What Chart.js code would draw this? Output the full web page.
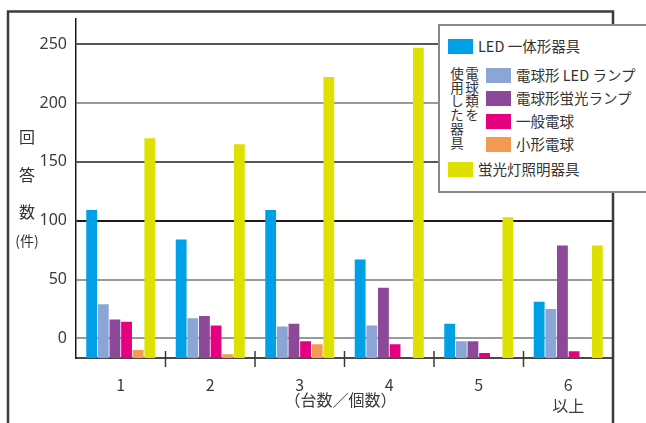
<!DOCTYPE html>
<html lang="ja">
<head>
<meta charset="utf-8">
<script src="https://cdn.jsdelivr.net/npm/chart.js@4.4.1/dist/chart.umd.min.js"></script>
<style>
  body { margin: 0; background: #fff; }
  #wrap { position: relative; width: 646px; height: 423px; overflow: hidden;
          font-family: 'Noto Sans CJK JP', sans-serif; color: #333; }
  #chart { position: absolute; left: 0; top: 0; }
  .ytitle { position: absolute; left: 18px; top: 118px; width: 18px; font-size: 16px;
            line-height: 37.5px; text-align: center; }
  .yunit { position: absolute; left: 14px; top: 231px; width: 26px; font-size: 14px;
           line-height: 18px; text-align: center; }
  #legend { position: absolute; left: 438px; top: 24px; width: 220px; height: 165px;
            border: 2px solid #888; background: #fff; }
  .sw { position: absolute; width: 25px; height: 15px; }
  .lt { position: absolute; font-size: 14.5px; line-height: 16px; white-space: nowrap; }
  .vt { position: absolute; writing-mode: vertical-rl; font-size: 13.5px; line-height: 15px;
        letter-spacing: 0.3px; }
</style>
</head>
<body>
<div id="wrap">
  <canvas id="chart" width="646" height="423"></canvas>
  <div class="ytitle">回<br>答<br>数</div>
  <div class="yunit">(件)</div>
  <div id="legend"></div>
</div>
<script>
// ---- data ----
const categories = ['1', '2', '3', '4', '5', ['6', '以上']];
const seriesNames = ['LED 一体形器具', '電球形 LED ランプ', '電球形蛍光ランプ', '一般電球', '小形電球', '蛍光灯照明器具'];
const seriesColors = ['#00a0e6', '#8ba5d6', '#8e4899', '#e4007f', '#f39b52', '#dde000'];

const ledFixture   = [109, 84, 109, 67, 12.5, 31];
const ledBulb      = [29, 17, 10, 11, -2.5, 25];
const cflBulb      = [16, 19, 12.5, 43, -2.5, 79];
const incandescent = [14, 11, -2.5, -5, -12.5, -11];
const miniBulb     = [-10, -13.5, -5, null, null, null];
const fluorescent  = [170, 165, 222, 247, 103, 79];

const yTicks = [0, 50, 100, 150, 200, 250];
const yMin = -16.7;
const yMax = 271.7;

const seriesValues = [ledFixture, ledBulb, cflBulb, incandescent, miniBulb, fluorescent];

// gridline shade per tick (dark / light alternating as in the print)
const gridShade = { 0: '#9a9a9a', 50: '#9a9a9a', 100: '#231815', 150: '#595757', 200: '#9a9a9a', 250: '#595757' };

// ---- frame + category ticks ----
const framePlugin = {
  id: 'frame',
  afterDraw(chart) {
    const { ctx, chartArea: a, scales: { x } } = chart;
    ctx.save();
    ctx.strokeStyle = '#3e3a39';
    ctx.lineWidth = 2.5;
    ctx.beginPath();
    ctx.moveTo(8, 430); ctx.lineTo(8, 11.5); ctx.lineTo(a.right, 11.5); ctx.lineTo(a.right, 430);
    ctx.stroke();

    ctx.lineWidth = 1.5;
    for (let i = 1; i < categories.length; i++) {
      const px = (x.getPixelForValue(i - 1) + x.getPixelForValue(i)) / 2;
      ctx.beginPath();
      ctx.moveTo(px, a.bottom - 7);
      ctx.lineTo(px, a.bottom + 9);
      ctx.stroke();
    }
    ctx.restore();
  }
};

new Chart(document.getElementById('chart'), {
  type: 'bar',
  data: {
    labels: categories,
    datasets: seriesNames.map((name, i) => ({
      label: name,
      data: seriesValues[i],
      backgroundColor: seriesColors[i],
      base: yMin,
      borderWidth: 0,
      categoryPercentage: 0.78,
      barPercentage: 0.93
    }))
  },
  options: {
    responsive: false,
    animation: false,
    devicePixelRatio: 1,
    layout: { padding: { left: 0, right: 33, top: 13, bottom: 0 } },
    plugins: { legend: { display: false }, tooltip: { enabled: false } },
    scales: {
      x: {
        grid: { display: false },
        border: { display: true, color: '#4a4646', width: 2 },
        ticks: {
          color: '#3e3a39',
          padding: 8,
          font: { family: "'Noto Sans CJK JP', sans-serif", size: 16, lineHeight: 1.35 }
        },
        title: {
          display: true,
          text: '（台数／個数）　',
          color: '#3e3a39',
          padding: { top: 0, bottom: 13 },
          font: { family: "'Noto Sans CJK JP', sans-serif", size: 16 }
        },
        afterFit: s => { s.height = 65; }
      },
      y: {
        min: yMin,
        max: yMax,
        afterBuildTicks: s => { s.ticks = yTicks.map(v => ({ value: v })); },
        grid: {
          drawTicks: false,
          lineWidth: 2,
          color: c => gridShade[c.tick && c.tick.value] || '#9a9a9a'
        },
        border: { display: true, color: '#231815', width: 1.5 },
        ticks: {
          color: '#3e3a39',
          padding: 9,
          font: { family: "'Noto Sans', sans-serif", size: 16 }
        },
        afterFit: s => { s.width = 76; }
      }
    }
  },
  plugins: [framePlugin]
});

// ---- legend (HTML so the vertical caption stays upright) ----
const legend = document.getElementById('legend');
const ox = 440, oy = 26; // legend inner origin
const rows = [
  { i: 0, sx: 448, sy: 39 },
  { i: 1, sx: 486, sy: 68 },
  { i: 2, sx: 486, sy: 91 },
  { i: 3, sx: 486, sy: 114 },
  { i: 4, sx: 486, sy: 137 },
  { i: 5, sx: 448, sy: 162 }
];
rows.forEach(r => {
  const sw = document.createElement('div');
  sw.className = 'sw';
  sw.style.left = (r.sx - ox) + 'px';
  sw.style.top = (r.sy - oy) + 'px';
  sw.style.background = seriesColors[r.i];
  legend.appendChild(sw);
  const t = document.createElement('div');
  t.className = 'lt';
  t.textContent = seriesNames[r.i];
  t.style.left = (r.sx + 30 - ox) + 'px';
  t.style.top = (r.sy - 1 - oy) + 'px';
  legend.appendChild(t);
});
const cap = document.createElement('div');
cap.className = 'vt';
cap.innerHTML = '電球類を<br>使用した器具';
cap.style.left = (449 - ox) + 'px';
cap.style.top = (67 - oy) + 'px';
legend.appendChild(cap);
</script>
</body>
</html>
